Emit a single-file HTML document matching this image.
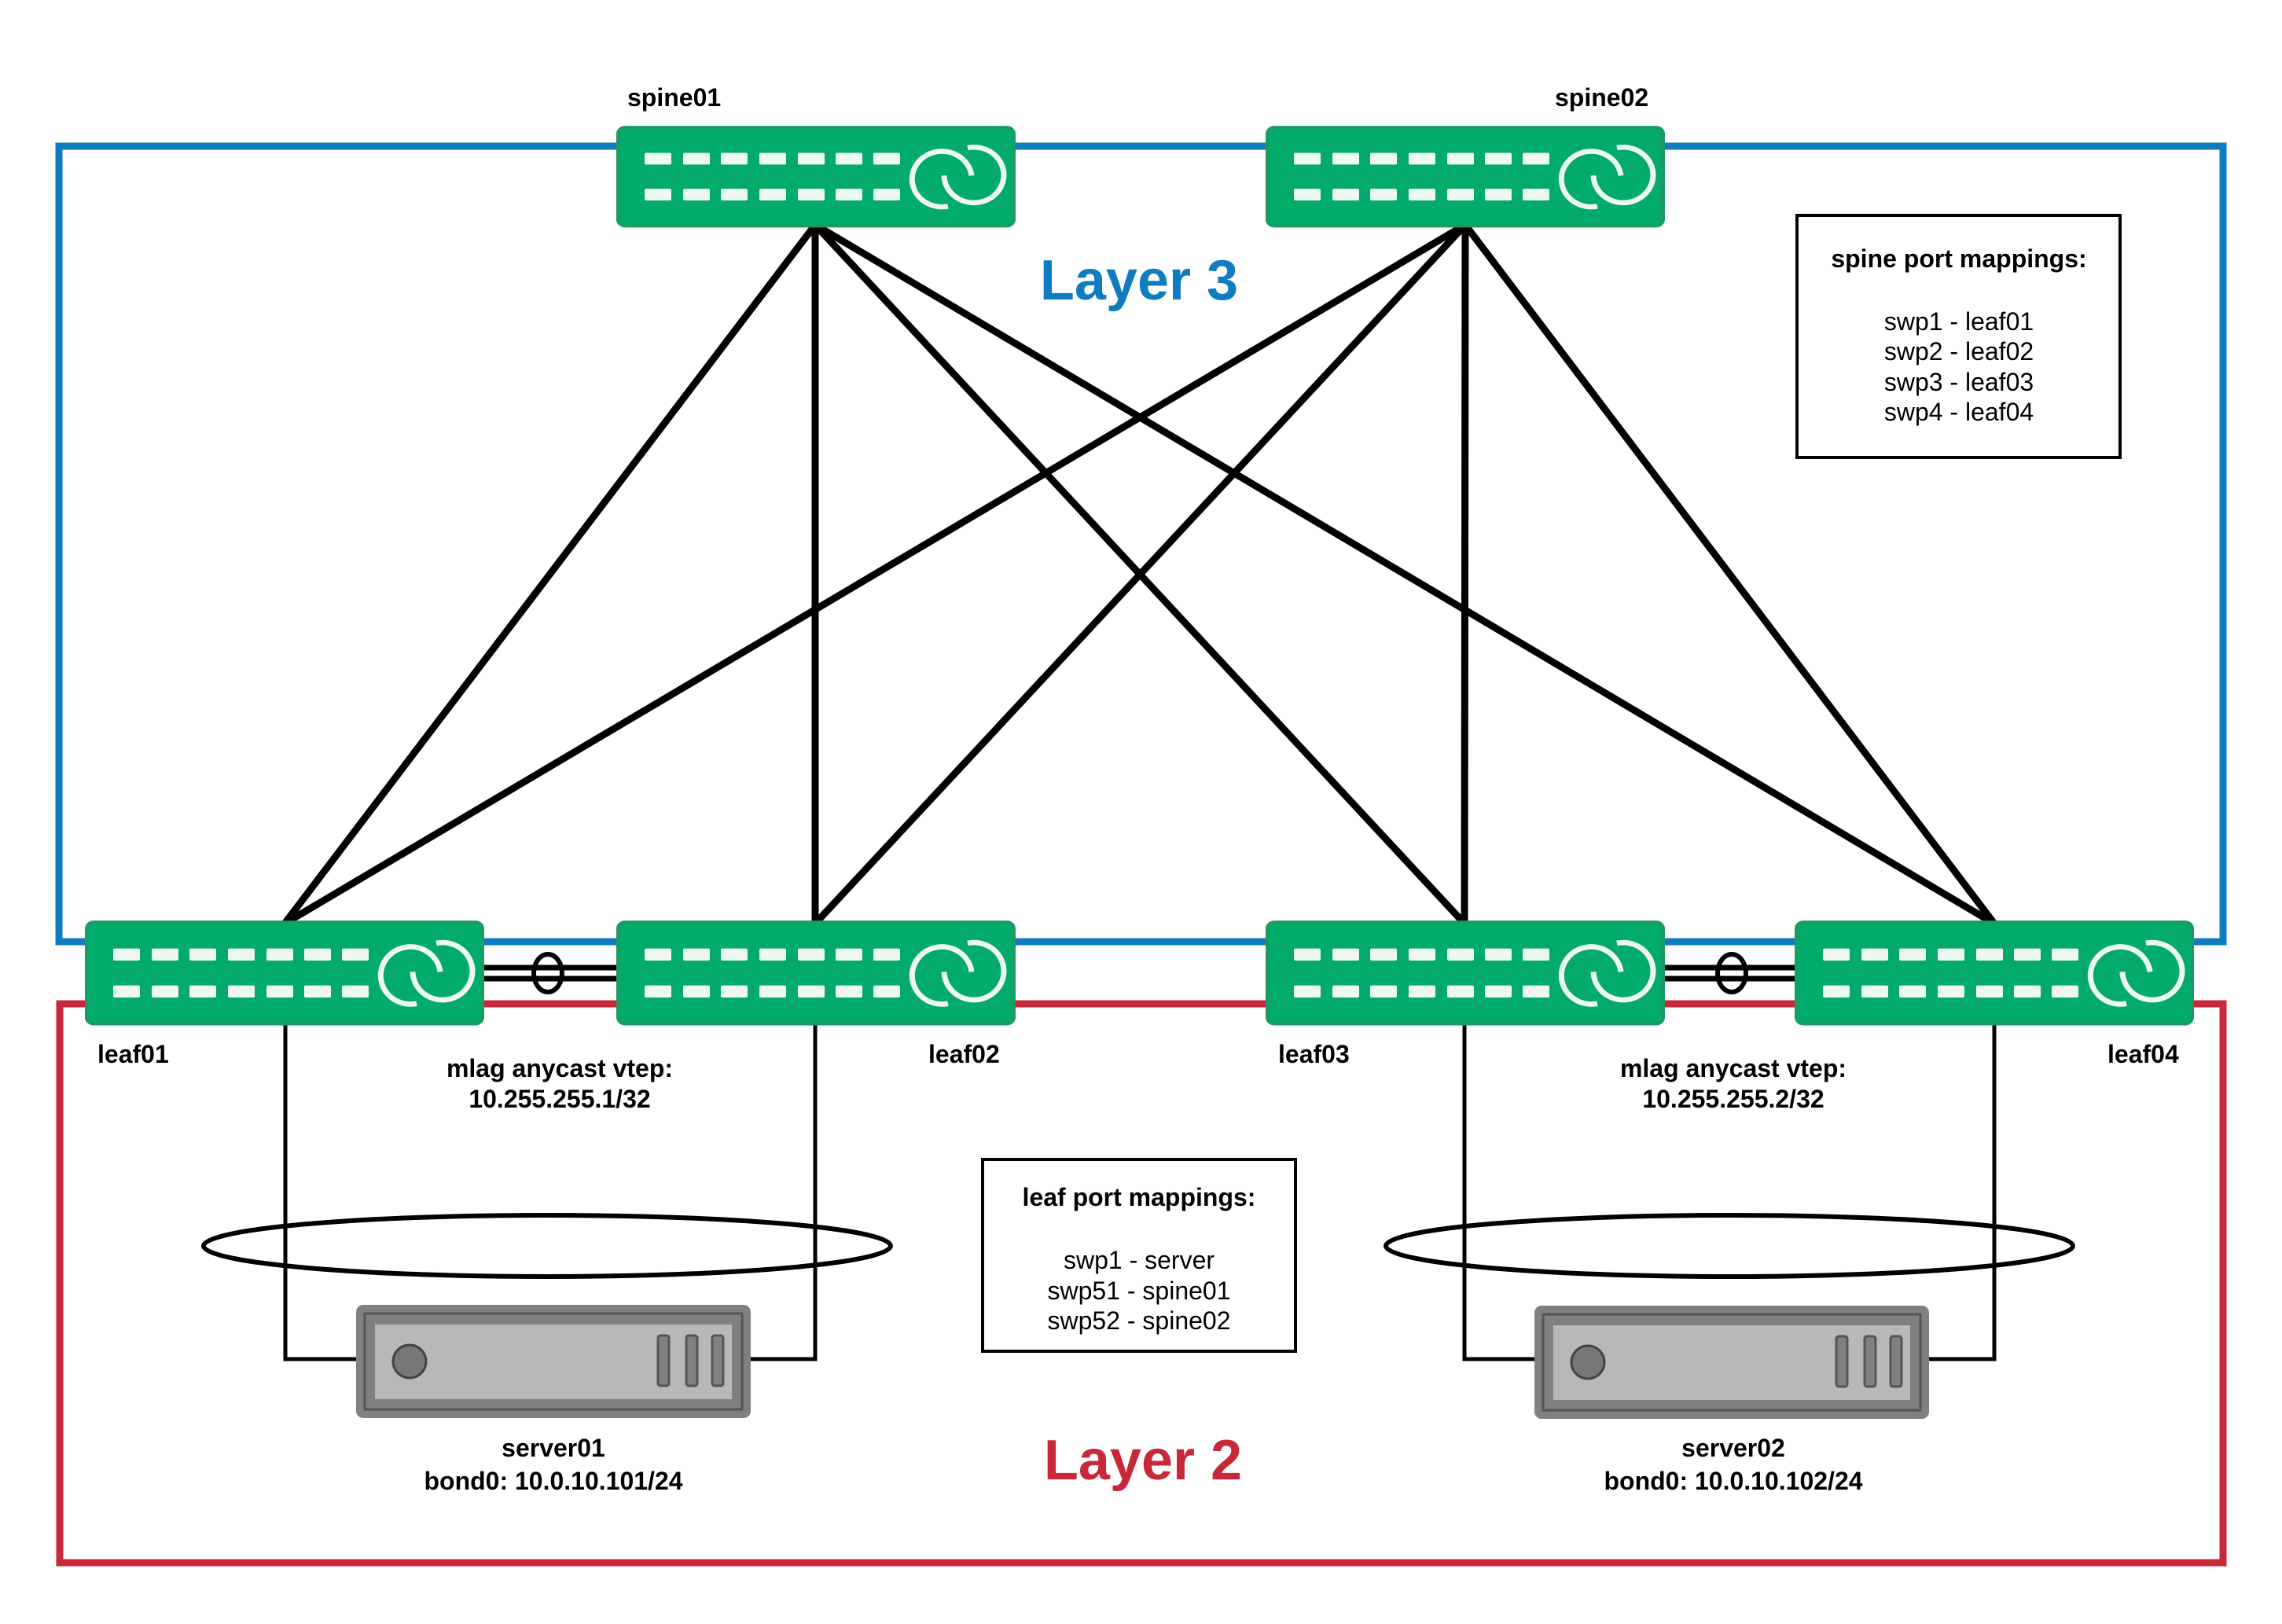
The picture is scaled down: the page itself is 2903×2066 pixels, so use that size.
<!DOCTYPE html>
<html><head><meta charset="utf-8"><style>
html,body{margin:0;padding:0;background:#fff}
svg{display:block}
text{font-family:"Liberation Sans",sans-serif}
</style></head><body>
<svg width="2903" height="2066" viewBox="0 0 2903 2066" xmlns="http://www.w3.org/2000/svg">
<defs>
<g id="sw">
  <rect x="0" y="0" width="504" height="135" rx="9" fill="#03ab6a" stroke="#1e9964" stroke-width="4"/>
  <g fill="#eef8f3">
    <rect x="34" y="35" width="34" height="16" rx="2"/><rect x="83" y="35" width="34" height="16" rx="2"/><rect x="131" y="35" width="34" height="16" rx="2"/><rect x="180" y="35" width="34" height="16" rx="2"/><rect x="229" y="35" width="34" height="16" rx="2"/><rect x="277" y="35" width="34" height="16" rx="2"/><rect x="325" y="35" width="34" height="16" rx="2"/>
    <rect x="34" y="84" width="34" height="16" rx="2"/><rect x="83" y="84" width="34" height="16" rx="2"/><rect x="131" y="84" width="34" height="16" rx="2"/><rect x="180" y="84" width="34" height="16" rx="2"/><rect x="229" y="84" width="34" height="16" rx="2"/><rect x="277" y="84" width="34" height="16" rx="2"/><rect x="325" y="84" width="34" height="16" rx="2"/>
  </g>
  <g fill="none" stroke="#eef8f3" stroke-width="7">
    <path d="M 450 66 A 38 38 0 1 0 420 108"/>
    <path d="M 415 66 A 38 38 0 1 0 445 28"/>
  </g>
</g>
<g id="srv">
  <rect x="0" y="0" width="502" height="144" rx="9" fill="#808080"/>
  <rect x="11" y="11" width="480" height="122" fill="none" stroke="#555" stroke-width="3"/>
  <rect x="24" y="25" width="454" height="95" fill="#b8b8b8"/>
  <circle cx="68" cy="72" r="21" fill="#777" stroke="#444" stroke-width="3"/>
  <g fill="#808080" stroke="#555" stroke-width="3">
    <rect x="384" y="39" width="14" height="64" rx="3"/><rect x="420" y="39" width="14" height="64" rx="3"/><rect x="453" y="39" width="14" height="64" rx="3"/>
  </g>
</g>
</defs>

<rect x="75" y="186" width="2753" height="1012" fill="none" stroke="#0e7cbe" stroke-width="9"/>
<rect x="76" y="1277" width="2752" height="711" fill="none" stroke="#c8283a" stroke-width="9"/>

<g stroke="#000" stroke-width="9" stroke-linecap="round">
  <line x1="1037" y1="286" x2="362" y2="1175"/>
  <line x1="1037" y1="286" x2="1037" y2="1175"/>
  <line x1="1037" y1="286" x2="1863" y2="1175"/>
  <line x1="1037" y1="286" x2="2537" y2="1175"/>
  <line x1="1864" y1="286" x2="362" y2="1175"/>
  <line x1="1864" y1="286" x2="1037" y2="1175"/>
  <line x1="1864" y1="286" x2="1863" y2="1175"/>
  <line x1="1864" y1="286" x2="2537" y2="1175"/>
</g>

<g stroke="#000" stroke-width="5" fill="none">
  <polyline points="363,1300 363,1729 455,1729"/>
  <polyline points="1037,1300 1037,1729 951,1729"/>
  <polyline points="1863,1300 1863,1729 1954,1729"/>
  <polyline points="2537,1300 2537,1729 2454,1729"/>
</g>

<g stroke="#000" stroke-width="7">
  <line x1="612" y1="1231" x2="788" y2="1231"/>
  <line x1="612" y1="1245" x2="788" y2="1245"/>
  <line x1="2118" y1="1231" x2="2287" y2="1231"/>
  <line x1="2118" y1="1245" x2="2287" y2="1245"/>
</g>
<ellipse cx="697" cy="1238" rx="18" ry="24" fill="none" stroke="#000" stroke-width="6"/>
<ellipse cx="2203" cy="1238" rx="18" ry="24" fill="none" stroke="#000" stroke-width="6"/>

<use href="#sw" transform="translate(786,162) scale(1,0.93)"/>
<use href="#sw" transform="translate(1612,162) scale(1,0.93)"/>
<use href="#sw" transform="translate(110,1173) scale(1,0.96)"/>
<use href="#sw" transform="translate(786,1173) scale(1,0.96)"/>
<use href="#sw" transform="translate(1612,1173) scale(1,0.96)"/>
<use href="#sw" transform="translate(2285,1173) scale(1,0.96)"/>

<ellipse cx="696" cy="1585" rx="437" ry="39" fill="none" stroke="#000" stroke-width="6"/>
<ellipse cx="2200" cy="1585" rx="437" ry="39" fill="none" stroke="#000" stroke-width="6"/>

<use href="#srv" x="453" y="1660"/>
<use href="#srv" x="1952" y="1661"/>

<rect x="2286" y="274" width="411" height="308" fill="#fff" stroke="#000" stroke-width="4"/>
<rect x="1250" y="1475" width="398" height="244" fill="#fff" stroke="#000" stroke-width="4"/>

<g font-weight="bold" font-size="32" fill="#000">
  <text x="798" y="135">spine01</text>
  <text x="1978" y="135">spine02</text>
  <text x="124" y="1352">leaf01</text>
  <text x="1181" y="1352">leaf02</text>
  <text x="1626" y="1352">leaf03</text>
  <text x="2681" y="1352">leaf04</text>
  <g text-anchor="middle">
    <text x="712" y="1370">mlag anycast vtep:</text>
    <text x="712" y="1409">10.255.255.1/32</text>
    <text x="2205" y="1370">mlag anycast vtep:</text>
    <text x="2205" y="1409">10.255.255.2/32</text>
    <text x="704" y="1853">server01</text>
    <text x="704" y="1895">bond0: 10.0.10.101/24</text>
    <text x="2205" y="1853">server02</text>
    <text x="2205" y="1895">bond0: 10.0.10.102/24</text>
    <text x="2492" y="340">spine port mappings:</text>
    <text x="1449" y="1534">leaf port mappings:</text>
  </g>
</g>
<g font-size="32" fill="#000" text-anchor="middle">
  <text x="2492" y="420">swp1 - leaf01</text>
  <text x="2492" y="458">swp2 - leaf02</text>
  <text x="2492" y="497">swp3 - leaf03</text>
  <text x="2492" y="535">swp4 - leaf04</text>
  <text x="1449" y="1614">swp1 - server</text>
  <text x="1449" y="1653">swp51 - spine01</text>
  <text x="1449" y="1691">swp52 - spine02</text>
</g>
<text x="1449" y="381" text-anchor="middle" font-weight="bold" font-size="72" fill="#0e7cbe">Layer 3</text>
<text x="1454" y="1882" text-anchor="middle" font-weight="bold" font-size="72" fill="#c8283a">Layer 2</text>
</svg>
</body></html>
